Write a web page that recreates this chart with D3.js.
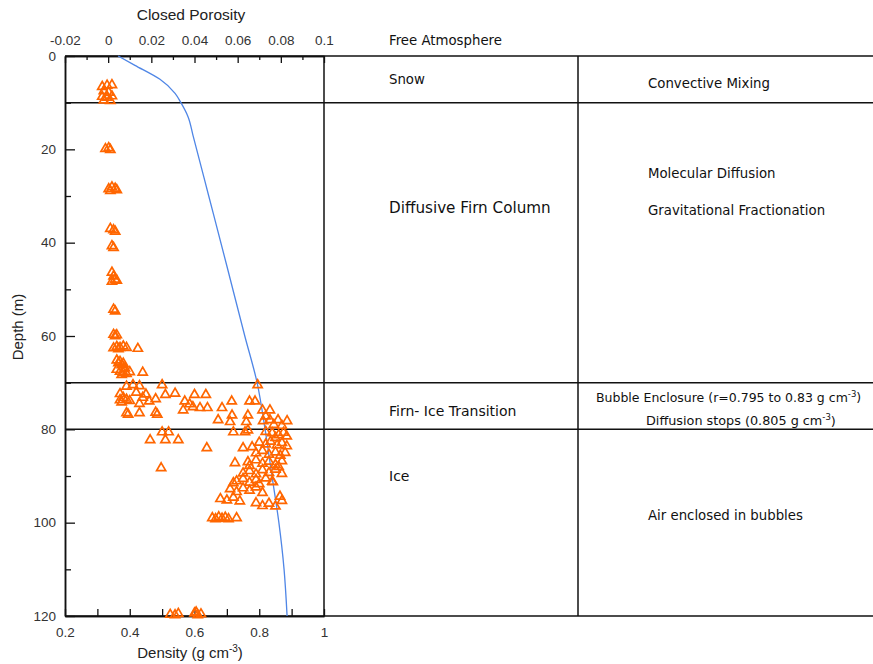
<!DOCTYPE html>
<html>
<head>
<meta charset="utf-8">
<script src="https://cdn.jsdelivr.net/npm/d3@7"></script>
<style>
  body { margin: 0; background: #fff; }
  .tick text { font-family: Arial, "Liberation Sans", sans-serif; font-size: 13.5px; fill: #333; }
  .cell { font-family: "Comic Sans MS", "DejaVu Sans", sans-serif; font-size: 13.3px; fill: #111; }
</style>
</head>
<body>
<script>

// closed porosity curve (top axis) vs depth
var curveDepth = [0, 2, 5, 8, 10, 13, 17, 30, 45, 60, 70, 80, 90, 100, 110, 120];
var curvePorosity = [0.0046, 0.0124, 0.024, 0.031, 0.0337, 0.037, 0.0393, 0.0466, 0.055, 0.0633, 0.069, 0.0727, 0.0759, 0.0791, 0.0815, 0.0829];

// density measurements [density, depth]
var snowPts = [[0.315,6.6],[0.33,6.3],[0.345,6.2],[0.32,7.5],[0.335,7.8],[0.315,8.7],[0.33,8.9],[0.345,8.6],[0.32,9.5],[0.34,9.6]];

var firnPts = [[0.325,19.9],[0.335,19.7],[0.34,20.1],
  [0.335,28.5],[0.345,28.1],[0.355,28.4],[0.36,28.7],[0.34,28.9],
  [0.34,37.0],[0.35,37.3],[0.355,37.6],
  [0.345,40.7],[0.35,41.1],
  [0.345,46.4],[0.35,47.2],[0.355,47.9],[0.345,48.3],[0.36,48.1],
  [0.35,54.3],[0.355,54.7],
  [0.35,59.7],[0.355,60.0],[0.36,59.8],
  [0.35,62.6],[0.36,62.3],[0.37,62.5],[0.38,62.2],[0.39,62.5],[0.365,62.8],[0.425,62.7],
  [0.36,65.2],[0.365,65.8],[0.375,66.2],[0.37,65.5],[0.38,65.9],
  [0.36,67.2],[0.37,67.6],[0.38,67.9],[0.39,68.1],[0.4,67.7],[0.385,66.9],[0.375,68.3],[0.44,67.8]];

var transitionPts = [[0.39,70.8],[0.41,70.5],[0.43,70.7],[0.5,70.5],[0.795,70.5],
  [0.37,72.4],[0.38,73.2],[0.39,73.6],[0.375,74.2],[0.4,73.9],[0.37,73.7],
  [0.42,72.1],[0.44,73.2],[0.45,72.5],[0.46,74.0],[0.48,73.5],[0.43,74.5],
  [0.51,72.6],[0.54,72.3],[0.57,74.0],[0.585,74.6],[0.595,75.2],[0.6,72.6],[0.635,72.6],
  [0.565,75.9],[0.617,75.4],[0.64,75.4],[0.685,75.4],[0.715,74.0],[0.77,74.0],[0.787,74.0],
  [0.39,76.5],[0.395,76.8],[0.43,76.5],[0.48,76.4],[0.485,76.8],
  [0.673,78.0],[0.71,78.4],[0.716,77.0],[0.765,77.0],[0.81,75.9],[0.833,75.9],[0.76,78.4],
  [0.812,78.2],[0.833,78.0],[0.858,78.0],[0.886,78.2],[0.82,77.2],[0.845,79.0],[0.87,79.2]];

var icePts = [[0.5,80.6],[0.52,80.6],[0.72,80.6],[0.756,80.6],[0.765,80.2],
  [0.463,82.3],[0.51,82.3],[0.55,82.3],
  [0.638,84.0],[0.75,84.0],[0.778,83.8],
  [0.497,88.3],[0.725,87.2],[0.765,87.0],
  [0.82,80.5],[0.84,80.8],[0.86,81.2],[0.875,80.7],[0.885,81.5],[0.85,81.8],
  [0.80,82.8],[0.82,83.2],[0.835,82.6],[0.855,83.4],[0.87,82.9],[0.885,83.6],
  [0.79,85.1],[0.81,84.6],[0.83,85.4],[0.85,84.9],[0.865,85.6],[0.88,85.0],
  [0.77,87.8],[0.79,86.6],[0.81,87.3],[0.83,86.9],[0.85,87.6],[0.87,86.8],[0.86,88.0],
  [0.75,89.4],[0.77,88.9],[0.79,89.6],[0.81,88.7],[0.83,89.3],[0.85,88.6],[0.87,89.5],
  [0.73,91.1],[0.75,90.6],[0.77,91.4],[0.79,90.8],[0.80,91.7],[0.82,90.5],[0.84,91.2],[0.72,91.5],
  [0.71,92.8],[0.73,93.4],[0.75,92.6],[0.77,93.1],[0.79,92.4],[0.81,93.6],
  [0.68,94.9],[0.70,95.2],[0.72,94.6],[0.74,95.4],[0.79,95.8],[0.81,96.4],[0.83,95.9],[0.85,96.5],[0.87,95.3],[0.864,94.4],[0.842,91.3],
  [0.655,99.0],[0.665,99.2],[0.675,98.8],[0.685,99.1],[0.695,98.9],[0.705,99.2],[0.73,99.0],
  [0.525,119.7],[0.54,119.8],[0.55,119.5],[0.6,119.4],[0.61,119.8],[0.62,119.6],[0.605,119.2]];

// tick values
var depthTicks = [0, 20, 40, 60, 80, 100, 120];
var depthMinor = [10, 30, 50, 70, 90, 110];
var densityTicks = [0.2, 0.4, 0.6, 0.8, 1];
var densityMinor = [0.3, 0.5, 0.7, 0.9];
var porosityTicks = [-0.02, 0, 0.02, 0.04, 0.06, 0.08, 0.1];
var porosityMinor = [-0.01, 0.01, 0.03, 0.05, 0.07, 0.09];

// zone boundaries (m)
var zoneDepths = [10, 70, 80];

var w = 873;
var h = 664;
var pLeft = 65, pRight = 324, pTop = 56, pBottom = 616;
var colX = 578;

var svg = d3.select("body")
      .append("svg")
      .attr("width", w)
      .attr("height", h);

var x = d3.scaleLinear().domain([0.2, 1]).range([pLeft, pRight]);
var xTop = d3.scaleLinear().domain([-0.02, 0.1]).range([pLeft, pRight]);
var y = d3.scaleLinear().domain([0, 120]).range([pTop, pBottom]);

var fmt = function(d){ return String(+d.toFixed(2)); };

// axes
svg.append("g").attr("transform", "translate(" + pLeft + ",0)")
  .call(d3.axisLeft(y).tickValues(depthTicks).tickSizeInner(-10).tickSizeOuter(0).tickPadding(9).tickFormat(fmt));
svg.append("g").attr("transform", "translate(" + pLeft + ",0)")
  .call(d3.axisLeft(y).tickValues(depthMinor).tickSizeInner(-6).tickSizeOuter(0).tickFormat(""));

svg.append("g").attr("transform", "translate(0," + pBottom + ")")
  .call(d3.axisBottom(x).tickValues(densityTicks).tickSizeInner(-7).tickSizeOuter(0).tickPadding(11).tickFormat(fmt));
svg.append("g").attr("transform", "translate(0," + pBottom + ")")
  .call(d3.axisBottom(x).tickValues(densityMinor).tickSizeInner(-7).tickSizeOuter(0).tickFormat(""));

svg.append("g").attr("transform", "translate(0," + pTop + ")")
  .call(d3.axisTop(xTop).tickValues(porosityTicks).tickSizeInner(-7).tickSizeOuter(0).tickPadding(11).tickFormat(fmt));
svg.append("g").attr("transform", "translate(0," + pTop + ")")
  .call(d3.axisTop(xTop).tickValues(porosityMinor).tickSizeInner(-4).tickSizeOuter(0).tickFormat(""));

svg.selectAll(".domain").attr("stroke", "#111").attr("stroke-width", 1.5);
svg.selectAll(".tick line").attr("stroke", "#111").attr("stroke-width", 1.3);

// frame and table lines
var lineG = svg.append("g").attr("stroke", "#111").attr("stroke-width", 1.5);
lineG.append("line").attr("x1", pLeft).attr("x2", w).attr("y1", pTop).attr("y2", pTop);
lineG.append("line").attr("x1", pLeft).attr("x2", w).attr("y1", pBottom).attr("y2", pBottom);
lineG.append("line").attr("x1", pRight).attr("x2", pRight).attr("y1", pTop).attr("y2", pBottom);
lineG.append("line").attr("x1", colX).attr("x2", colX).attr("y1", pTop).attr("y2", pBottom);
lineG.selectAll(".zone")
  .data(zoneDepths)
  .enter()
  .append("line")
  .attr("x1", pLeft).attr("x2", w)
  .attr("y1", function(d){ return y(d); })
  .attr("y2", function(d){ return y(d); });

// porosity curve
var line = d3.line()
  .x(function(d){ return xTop(d[0]); })
  .y(function(d){ return y(d[1]); })
  .curve(d3.curveMonotoneY);
svg.append("path")
  .datum(curvePorosity.map(function(p, i){ return [p, curveDepth[i]]; }))
  .attr("fill", "none")
  .attr("stroke", "#4f86e6")
  .attr("stroke-width", 1.3)
  .attr("d", line);

// density triangles
var tri = d3.symbol().type(d3.symbolTriangle).size(36);
var allPts = snowPts.concat(firnPts, transitionPts, icePts);
svg.append("g").selectAll("path")
  .data(allPts)
  .enter()
  .append("path")
  .attr("d", tri)
  .attr("transform", function(d){ return "translate(" + x(d[0]) + "," + y(d[1]) + ")"; })
  .attr("fill", "none")
  .attr("stroke", "#ff6600")
  .attr("stroke-width", 1.7);

// axis titles
var titleFont = "Arial, 'Liberation Sans', sans-serif";
svg.append("text").attr("x", 191).attr("y", 20).attr("text-anchor", "middle")
  .style("font-family", titleFont).style("font-size", "15.5px").attr("fill", "#222")
  .text("Closed Porosity");
svg.append("text").attr("transform", "translate(23,327) rotate(-90)").attr("text-anchor", "middle")
  .style("font-family", titleFont).style("font-size", "15px").attr("fill", "#222")
  .text("Depth (m)");
var dens = svg.append("text").attr("x", 190).attr("y", 658).attr("text-anchor", "middle")
  .style("font-family", titleFont).style("font-size", "15px").attr("fill", "#222");
dens.append("tspan").text("Density (g cm");
dens.append("tspan").attr("dy", -6).style("font-size", "10px").text("-3");
dens.append("tspan").attr("dy", 6).text(")");

// table text
function cell(tx, ty, txt, size) {
  var t = svg.append("text").attr("class", "cell").attr("x", tx).attr("y", ty).text(txt);
  if (size) t.style("font-size", size + "px");
  return t;
}
cell(389, 45, "Free Atmosphere");
cell(389, 84, "Snow");
cell(648, 88, "Convective Mixing");
cell(648, 178, "Molecular Diffusion");
cell(389, 213, "Diffusive Firn Column", 15.2);
cell(648, 215, "Gravitational Fractionation");
cell(389, 416, "Firn- Ice Transition", 14);
var b1 = cell(596, 402, "Bubble Enclosure (r=0.795 to 0.83 g cm", 12.5);
b1.append("tspan").attr("dy", -5).style("font-size", "8.5px").text("-3");
b1.append("tspan").attr("dy", 5).text(")");
var b2 = cell(646, 425, "Diffusion stops (0.805 g cm", 12.8);
b2.append("tspan").attr("dy", -5).style("font-size", "8.5px").text("-3");
b2.append("tspan").attr("dy", 5).text(")");
cell(389, 481, "Ice", 14);
cell(648, 520, "Air enclosed in bubbles");

</script>
</body>
</html>
